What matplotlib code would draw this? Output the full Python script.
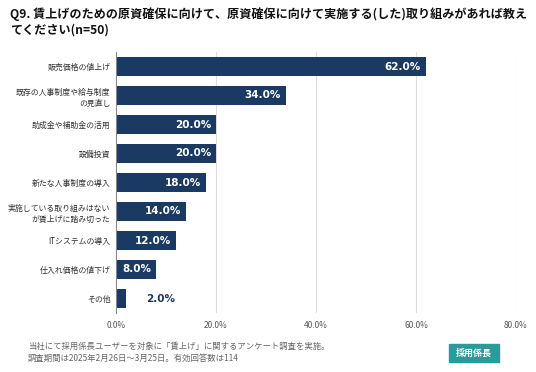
import numpy as np
import matplotlib.pyplot as plt
from matplotlib.patches import FancyBboxPatch

plt.rcParams['font.family'] = ['Noto Sans CJK JP', 'DejaVu Sans']

# data
categories = ["販売価格の値上げ", "既存の人事制度や給与制度\nの見直し", "助成金や補助金の活用",
              "設備投資", "新たな人事制度の導入", "実施している取り組みはない\nが賃上げに踏み切った",
              "ITシステムの導入", "仕入れ価格の値下げ", "その他"]
values = [62.0, 34.0, 20.0, 20.0, 18.0, 14.0, 12.0, 8.0, 2.0]
xticks = [0, 20, 40, 60, 80]

navy = "#1b3a63"

fig = plt.figure(figsize=(5.36, 3.72), dpi=100)
ax = fig.add_axes([116/536, 1-313/372, 400/536, 261/372])

y = np.arange(len(categories))
ax.barh(y, values, height=0.66, color=navy, zorder=3)
ax.set_ylim(len(categories)-0.5, -0.5)
ax.set_xlim(0, 80)
ax.set_xticks(xticks)
ax.set_xticklabels([f"{t:.1f}%" for t in xticks], fontsize=6, color="#555555")
ax.set_yticks(y)
ax.set_yticklabels(categories, fontsize=5.7, color="#333333", linespacing=1.3)
ax.tick_params(length=0, pad=4)
ax.tick_params(axis="x", pad=6)
ax.xaxis.grid(True, color="#dddddd", linewidth=0.8, zorder=0)
for s in ["top", "right", "bottom"]:
    ax.spines[s].set_visible(False)
ax.spines["left"].set_color("#888888")
ax.spines["left"].set_linewidth(0.8)
ax.spines["left"].set_zorder(4)

for yi, v in zip(y, values):
    if v >= 5:
        ax.text(v - 1, yi, f"{v:.1f}%", ha="right", va="center", color="white",
                fontsize=7.5, fontweight="bold", family="DejaVu Sans", zorder=5)
    else:
        ax.text(v + 4, yi, f"{v:.1f}%", ha="left", va="center", color=navy,
                fontsize=7.5, fontweight="bold", family="DejaVu Sans", zorder=5)

fig.text(10/536, 1-14/372, "Q9. 賃上げのための原資確保に向けて、原資確保に向けて実施する(した)取り組みがあれば教え",
         fontsize=8.7, fontweight="bold", va="center", ha="left", color="#111111")
fig.text(10/536, 1-30/372, "てください(n=50)", fontsize=8.7, fontweight="bold",
         va="center", ha="left", color="#111111")

fig.text(28/536, 1-346/372, "当社にて採用係長ユーザーを対象に「賃上げ」に関するアンケート調査を実施。",
         fontsize=6, color="#666666", va="center")
fig.text(28/536, 1-358/372, "調査期間は2025年2月26日～3月25日。有効回答数は114",
         fontsize=6, color="#666666", va="center")

# logo
fig.patches.append(FancyBboxPatch((449/536, 1-362/372), 50/536, 18/372, boxstyle="square,pad=0",
                                  transform=fig.transFigure, color="#2a9a9a", zorder=1))
fig.text(474/536, 1-353/372, "採用係長", fontsize=6.5, color="white", ha="center", va="center",
         fontweight="bold")

fig.savefig("out.png", dpi=100)
